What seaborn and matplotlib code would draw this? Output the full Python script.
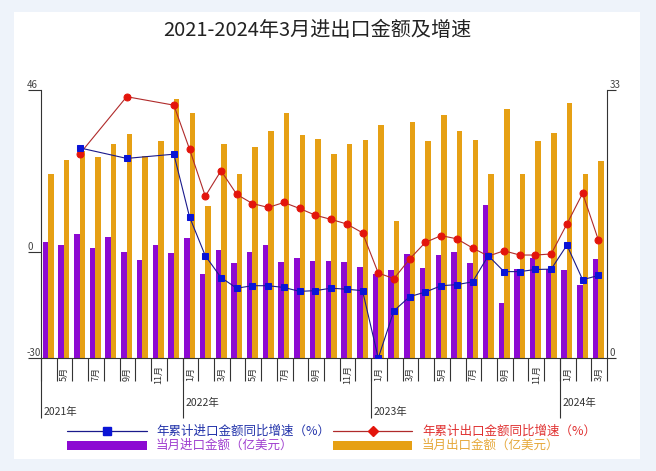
import numpy as np
import pandas as pd
import matplotlib
matplotlib.use("Agg")
import matplotlib.pyplot as plt
from matplotlib.patches import Rectangle
import seaborn as sns

nan = np.nan

# 2021-04 .. 2024-03
months = [str(p) for p in pd.period_range("2021-04", "2024-03", freq="M")]

# monthly amounts (right axis)
import_amt = [14.3, 13.9, 15.3, 13.6, 14.9, 13.1, 12.1, 13.9, 12.9, 14.8, 10.4, 13.3,
              11.7, 13.1, 13.9, 11.8, 12.3, 12.0, 12.0, 11.8, 11.2, 10.4, 10.8, 12.8,
              11.1, 12.7, 13.1, 11.7, 18.8, 6.8, 10.9, 12.3, 10.9, 10.8, 9.0, 12.2]
export_amt = [22.7, 24.4, 25.5, 24.7, 26.3, 27.6, 24.9, 26.7, 31.9, 30.2, 18.7, 26.3,
              22.6, 26.0, 27.9, 30.2, 27.4, 27.0, 25.1, 26.3, 26.9, 28.7, 16.9, 29.1,
              26.7, 29.9, 27.9, 26.9, 22.7, 30.7, 22.6, 26.7, 27.7, 31.4, 22.6, 24.3]

# cumulative yoy growth % (left axis)
import_growth = [nan, nan, 29.6, nan, nan, 26.6, nan, nan, 27.8, 10.0, -1.0, -7.2,
                 -10.2, -9.5, -9.5, -10.0, -11.1, -10.9, -10.2, -10.5, -10.9, -30.0, -16.6, -12.6,
                 -11.3, -9.5, -9.2, -8.4, -1.0, -5.5, -5.5, -4.9, -4.8, 2.0, -7.8, -6.6]
export_growth = [nan, nan, 27.8, nan, nan, 44.1, nan, nan, 41.7, 29.2, 15.9, 23.1,
                 16.4, 13.8, 12.7, 14.1, 12.4, 10.5, 9.3, 8.0, 5.5, -5.9, -7.5, -1.9,
                 2.8, 4.7, 3.8, 1.2, -1.1, 0.4, -0.8, -0.8, -0.5, 8.0, 16.7, 3.5]

tick_months = ["5月", "7月", "9月", "11月", "1月", "3月", "5月", "7月", "9月", "11月",
               "1月", "3月", "5月", "7月", "9月", "11月", "1月", "3月"]
years = ["2021年", "2022年", "2023年", "2024年"]
year_start = [0, 9, 21, 33]

purple = "#8c0ad2"
orange = "#e6a014"
blue_line, blue_mk = "#1a1a8c", "#0a14d6"
red_line, red_mk = "#b02a2a", "#e3150c"

sns.set_theme(style="white")
plt.rcParams['font.family'] = ['Noto Sans CJK SC', 'DejaVu Sans']

fig = plt.figure(figsize=(6.56, 4.71), dpi=100)
fig.patch.set_facecolor("#eef3fa")
fig.add_artist(Rectangle((14 / 656, 1 - 459 / 471), 626 / 656, 447 / 471,
                         transform=fig.transFigure, facecolor="white",
                         edgecolor="none", zorder=-1))

ax_b = fig.add_axes([41 / 656, 1 - 358 / 471, 566 / 656, 268 / 471])
ax_b.set_facecolor("white")

df = pd.DataFrame({
    "month": months * 2,
    "series": ["进口"] * len(months) + ["出口"] * len(months),
    "value": import_amt + export_amt,
})
sns.barplot(data=df, x="month", y="value", hue="series", order=months,
            hue_order=["进口", "出口"], palette={"进口": purple, "出口": orange},
            width=0.7, gap=0, saturation=1, linewidth=0, errorbar=None,
            legend=False, ax=ax_b)

ax_l = ax_b.twinx()
x = np.arange(len(months))
sns.lineplot(x=x, y=export_growth, ax=ax_l, color=red_line, linewidth=0.8,
             marker="o", markersize=5, markerfacecolor=red_mk, markeredgecolor=red_mk)
sns.lineplot(x=x, y=import_growth, ax=ax_l, color=blue_line, linewidth=0.8,
             marker="s", markersize=4.6, markerfacecolor=blue_mk, markeredgecolor=blue_mk)

ax_b.set_xlim(-0.45, len(months) - 0.45)
ax_b.set_ylim(0, 33)
ax_l.set_ylim(-30, 46)
for a in (ax_b, ax_l):
    a.set_xlabel("")
    a.set_ylabel("")
    a.set_yticks([])
ax_b.set_xticks([])

for s in ax_l.spines.values():
    s.set_visible(False)
ax_b.spines["top"].set_visible(False)
for k in ("left", "right", "bottom"):
    ax_b.spines[k].set_color("#333333")
    ax_b.spines[k].set_linewidth(0.8)

# y tick marks and labels
tick_kw = dict(fontsize=7, color="#444444", clip_on=False)
ax_l.hlines([46, 0, -30], -13 / 566, 0, transform=ax_l.get_yaxis_transform(),
            color="#333333", lw=0.8, clip_on=False)
for v, lab in zip([46, 0, -30], ["46", "0", "-30"]):
    ax_l.text(-14 / 566, v, lab, transform=ax_l.get_yaxis_transform(),
              ha="left", va="bottom", **tick_kw)
ax_b.hlines([0, 33], 1, 1 + 9 / 566, transform=ax_b.get_yaxis_transform(),
            color="#333333", lw=0.8, clip_on=False)
for v, lab in zip([0, 33], ["0", "33"]):
    ax_b.text(1 + 3 / 566, v, lab, transform=ax_b.get_yaxis_transform(),
              ha="left", va="bottom", **tick_kw)

# month boxes and year separators
xt = ax_b.get_xaxis_transform()
bounds = np.arange(len(months) + 1) - 0.45
ax_b.vlines(bounds, -23 / 268, 0, transform=xt, color="#333333", lw=0.8, clip_on=False)
for i, lab in zip(range(1, len(months), 2), tick_months):
    ax_b.text(i + 0.05, -16 / 268, lab, transform=xt, rotation=90, ha="center",
              va="center", fontsize=6.5, color="#333333", clip_on=False)
for j, (st, lab) in enumerate(zip(year_start, years)):
    ax_b.vlines(st - 0.45, -60 / 268, 0, transform=xt, color="#333333", lw=0.8, clip_on=False)
    yy = -54 / 268 if j % 2 == 0 else -45 / 268
    ax_b.text(st - 0.45 + 0.18, yy, lab, transform=xt, ha="left", va="center",
              fontsize=7.5, color="#333333", clip_on=False)

fig.text(317 / 656, 1 - 31 / 471, "2021-2024年3月进出口金额及增速", ha="center",
         va="center", fontsize=14.5, color="#222222")

# legend
ov = fig.add_axes([0, 0, 1, 1], zorder=5)
ov.set_xlim(0, 656)
ov.set_ylim(471, 0)
ov.axis("off")
ov.patch.set_alpha(0)
ov.plot([67, 147], [431, 431], color=blue_line, lw=0.9)
ov.plot([107], [431], marker="s", ms=6, color=blue_mk, lw=0)
ov.text(156, 431, "年累计进口金额同比增速（%）", va="center", fontsize=9, color="#2233aa")
ov.plot([333, 412], [431, 431], color=red_line, lw=0.9)
ov.plot([373], [431], marker="D", ms=5, color=red_mk, lw=0)
ov.text(422, 431, "年累计出口金额同比增速（%）", va="center", fontsize=9, color="#e03030")
ov.add_patch(Rectangle((67, 441), 80, 9, color=purple, lw=0))
ov.text(156, 445, "当月进口金额（亿美元）", va="center", fontsize=9, color="#a040d0")
ov.add_patch(Rectangle((333, 441), 79, 9, color=orange, lw=0))
ov.text(422, 445, "当月出口金额（亿美元）", va="center", fontsize=9, color="#e6a83a")

fig.savefig("out.png", dpi=100)
